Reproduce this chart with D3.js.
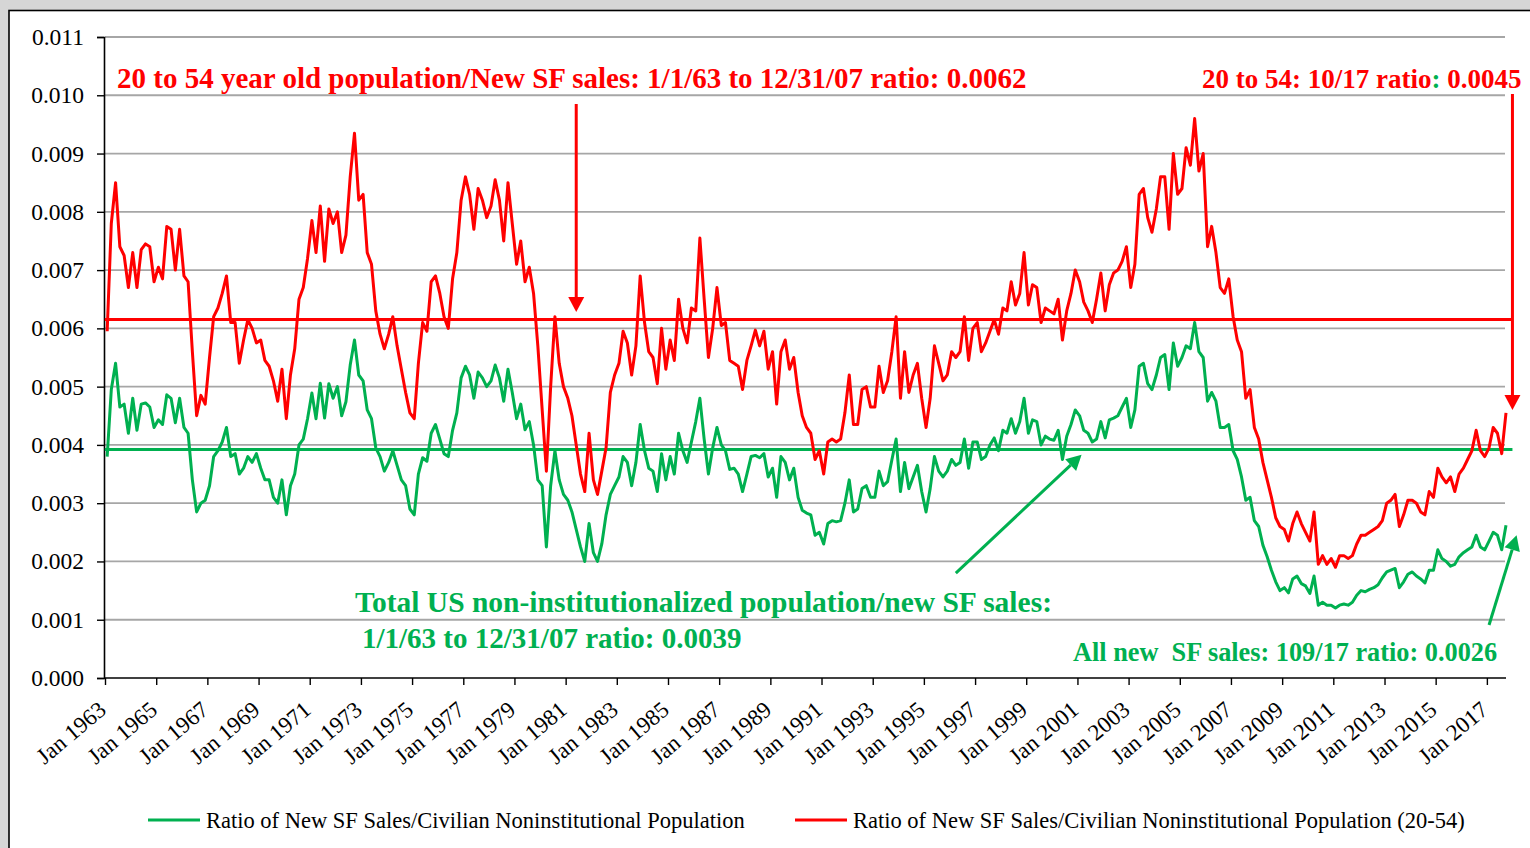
<!DOCTYPE html>
<html lang="en">
<head>
  <meta charset="UTF-8">
  <title>New SF sales / population ratio</title>
  <style>
    body { margin: 0; background: #d9d9d9; }
    svg { display: block; }
  </style>
</head>
<body>
  <script src="https://cdn.jsdelivr.net/npm/d3@7/dist/d3.min.js"></script>
  <script>
    // values, in thousandths (0.001 units)
    // one sample every 2 months, Feb 1963 .. Oct 2017, one row per year
    const totalPopRatio = [
      3.8, 4.95, 5.4, 4.65, 4.7, 4.2,      // 1963
      4.8, 4.25, 4.7, 4.72, 4.65, 4.3,
      4.43, 4.35, 4.86, 4.8, 4.38, 4.8,    // 1965
      4.3, 4.2, 3.4, 2.85, 3.0, 3.05,
      3.3, 3.8, 3.9, 4.05, 4.3, 3.8,       // 1967
      3.85, 3.5, 3.6, 3.8, 3.7, 3.85,
      3.6, 3.4, 3.4, 3.1, 3.0, 3.4,        // 1969
      2.8, 3.3, 3.5, 4.0, 4.1, 4.45,
      4.89, 4.45, 5.06, 4.46, 5.05, 4.8,   // 1971
      5.0, 4.5, 4.74, 5.37, 5.8, 5.2,
      5.1, 4.6, 4.45, 3.95, 3.8, 3.55,     // 1973
      3.7, 3.9, 3.65, 3.4, 3.3, 2.9,
      2.8, 3.5, 3.78, 3.72, 4.2, 4.35,     // 1975
      4.1, 3.85, 3.8, 4.25, 4.55, 5.15,
      5.35, 5.2, 4.8, 5.25, 5.15, 5.0,     // 1977
      5.1, 5.37, 5.15, 4.75, 5.3, 4.9,
      4.45, 4.7, 4.26, 4.4, 4.0, 3.4,      // 1979
      3.3, 2.25, 3.3, 3.9, 3.4, 3.15,
      3.05, 2.85, 2.55, 2.25, 2.0, 2.65,   // 1981
      2.15, 2.0, 2.3, 2.8, 3.15, 3.3,
      3.45, 3.8, 3.7, 3.3, 3.7, 4.35,      // 1983
      3.9, 3.6, 3.55, 3.2, 3.85, 3.4,
      3.8, 3.5, 4.2, 3.9, 3.7, 4.05,       // 1985
      4.4, 4.8, 4.1, 3.5, 3.95, 4.3,
      4.0, 3.9, 3.58, 3.6, 3.5, 3.2,       // 1987
      3.5, 3.8, 3.82, 3.78, 3.85, 3.45,
      3.6, 3.1, 3.8, 3.7, 3.4, 3.6,        // 1989
      3.1, 2.88, 2.83, 2.8, 2.45, 2.5,
      2.3, 2.65, 2.7, 2.68, 2.7, 3.0,      // 1991
      3.4, 2.85, 2.9, 3.25, 3.3, 3.1,
      3.1, 3.55, 3.3, 3.37, 3.74, 4.1,     // 1993
      3.2, 3.7, 3.25, 3.45, 3.65, 3.2,
      2.85, 3.25, 3.8, 3.55, 3.45, 3.55,   // 1995
      3.75, 3.65, 3.7, 4.1, 3.6, 4.05,
      4.05, 3.75, 3.8, 4.0, 4.12, 3.9,     // 1997
      4.25, 4.2, 4.45, 4.2, 4.4, 4.8,
      4.2, 4.43, 4.4, 4.0, 4.15, 4.1,      // 1999
      4.08, 4.25, 3.75, 4.15, 4.35, 4.6,
      4.5, 4.25, 4.2, 4.05, 4.1, 4.4,      // 2001
      4.12, 4.43, 4.46, 4.5, 4.65, 4.8,
      4.3, 4.6, 5.35, 5.4, 5.05, 4.95,     // 2003
      5.2, 5.5, 5.55, 4.95, 5.75, 5.35,
      5.5, 5.7, 5.65, 6.1, 5.6, 5.5,       // 2005
      4.75, 4.9, 4.75, 4.3, 4.3, 4.35,
      3.9, 3.75, 3.45, 3.05, 3.1, 2.7,     // 2007
      2.6, 2.28, 2.08, 1.85, 1.65, 1.5,
      1.55, 1.46, 1.7, 1.75, 1.62, 1.58,   // 2009
      1.45, 1.75, 1.25, 1.3, 1.25, 1.25,
      1.2, 1.25, 1.27, 1.25, 1.3, 1.42,    // 2011
      1.5, 1.48, 1.52, 1.55, 1.6, 1.72,
      1.82, 1.85, 1.88, 1.55, 1.65, 1.78,  // 2013
      1.82, 1.75, 1.7, 1.63, 1.85, 1.85,
      2.2, 2.05, 2.0, 1.92, 1.95, 2.08,    // 2015
      2.15, 2.2, 2.25, 2.45, 2.25, 2.2,
      2.35, 2.5, 2.45, 2.2, 2.62           // 2017
    ];

    const age2054Ratio = [
      5.95, 7.8, 8.5, 7.4, 7.25, 6.7,      // 1963
      7.3, 6.7, 7.35, 7.45, 7.4, 6.8,
      7.05, 6.85, 7.75, 7.7, 7.0, 7.7,     // 1965
      6.9, 6.8, 5.6, 4.5, 4.85, 4.7,
      5.5, 6.2, 6.35, 6.6, 6.9, 6.1,       // 1967
      6.1, 5.4, 5.8, 6.15, 6.0, 5.75,
      5.8, 5.45, 5.35, 5.1, 4.75, 5.3,     // 1969
      4.45, 5.2, 5.65, 6.5, 6.7, 7.2,
      7.85, 7.3, 8.1, 7.15, 8.05, 7.8,     // 1971
      8.0, 7.3, 7.6, 8.6, 9.35, 8.2,
      8.3, 7.3, 7.1, 6.3, 5.9, 5.65,       // 1973
      5.9, 6.2, 5.7, 5.3, 4.9, 4.55,
      4.45, 5.4, 6.1, 5.95, 6.8, 6.9,      // 1975
      6.6, 6.2, 6.0, 6.85, 7.3, 8.2,
      8.6, 8.3, 7.7, 8.4, 8.2, 7.9,        // 1977
      8.1, 8.55, 8.2, 7.5, 8.5, 7.8,
      7.1, 7.5, 6.8, 7.05, 6.6, 5.7,       // 1979
      4.6, 3.55, 5.0, 6.2, 5.4, 5.0,
      4.8, 4.5, 4.0, 3.5, 3.2, 4.2,        // 1981
      3.4, 3.15, 3.55, 3.95, 4.9, 5.2,
      5.4, 5.95, 5.75, 5.2, 5.7, 6.9,      // 1983
      6.1, 5.6, 5.5, 5.05, 6.0, 5.3,
      5.8, 5.45, 6.5, 6.0, 5.75, 6.35,     // 1985
      6.3, 7.55, 6.5, 5.5, 6.0, 6.7,
      6.05, 6.1, 5.45, 5.4, 5.35, 4.95,    // 1987
      5.45, 5.7, 5.97, 5.7, 5.95, 5.3,
      5.6, 4.7, 5.6, 5.8, 5.3, 5.5,        // 1989
      4.9, 4.5, 4.3, 4.2, 3.75, 3.9,
      3.5, 4.05, 4.1, 4.05, 4.1, 4.55,     // 1991
      5.2, 4.35, 4.35, 4.95, 5.0, 4.65,
      4.65, 5.35, 4.9, 5.1, 5.6, 6.2,      // 1993
      4.8, 5.6, 4.9, 5.2, 5.4, 4.8,
      4.3, 4.8, 5.7, 5.4, 5.1, 5.2,        // 1995
      5.6, 5.5, 5.6, 6.2, 5.45, 6.0,
      6.1, 5.6, 5.75, 5.95, 6.15, 5.9,     // 1997
      6.35, 6.3, 6.8, 6.4, 6.6, 7.3,
      6.4, 6.75, 6.7, 6.1, 6.35, 6.3,      // 1999
      6.25, 6.5, 5.8, 6.3, 6.6, 7.0,
      6.8, 6.45, 6.3, 6.1, 6.5, 6.95,      // 2001
      6.3, 6.75, 6.95, 7.0, 7.15, 7.4,
      6.7, 7.1, 8.3, 8.4, 7.9, 7.65,       // 2003
      8.05, 8.6, 8.6, 7.7, 9.0, 8.3,
      8.4, 9.1, 8.8, 9.6, 8.7, 9.0,        // 2005
      7.4, 7.75, 7.3, 6.7, 6.6, 6.85,
      6.2, 5.8, 5.6, 4.8, 4.95, 4.3,       // 2007
      4.1, 3.7, 3.4, 3.1, 2.75, 2.6,
      2.55, 2.35, 2.65, 2.85, 2.65, 2.5,   // 2009
      2.35, 2.85, 1.95, 2.1, 1.95, 2.05,
      1.9, 2.1, 2.1, 2.05, 2.1, 2.3,       // 2011
      2.45, 2.45, 2.5, 2.55, 2.6, 2.7,
      3.0, 3.05, 3.15, 2.6, 2.8, 3.05,     // 2013
      3.05, 3.0, 2.85, 2.8, 3.2, 3.1,
      3.6, 3.45, 3.35, 3.45, 3.2, 3.5,     // 2015
      3.6, 3.75, 3.9, 4.25, 3.9, 3.8,
      3.95, 4.3, 4.2, 3.85, 4.55           // 2017
    ];

    // 1/1/63 - 12/31/07 averages (horizontal lines)
    const avgTotal = 3.92;
    const avgAge2054 = 6.15;

    const yTicks = [0, 1, 2, 3, 4, 5, 6, 7, 8, 9, 10, 11];
    const tickYears = [1963, 1965, 1967, 1969, 1971, 1973, 1975, 1977, 1979, 1981, 1983, 1985, 1987, 1989,
      1991, 1993, 1995, 1997, 1999, 2001, 2003, 2005, 2007, 2009, 2011, 2013, 2015, 2017];

    const legendLabels = [
      'Ratio of New SF Sales/Civilian Noninstitutional Population',
      'Ratio of New SF Sales/Civilian Noninstitutional Population (20-54)'
    ];

    const RED = '#ff0000', GREEN = '#00b050', GRID = '#a6a6a6';
    const FONT = '"Liberation Serif", "Times New Roman", serif';
    const width = 1530, height = 848;

    const utc = (y, m) => new Date(Date.UTC(y, m, 1));
    const firstSample = utc(1963, 1);
    const dates = totalPopRatio.map((d, i) => d3.utcMonth.offset(firstSample, 2 * i));

    const x = d3.scaleUtc().domain([utc(1963, 0), utc(2017, 9)]).range([105, 1506]);
    const y = d3.scaleLinear().domain([0, 11]).range([678, 37]);

    const svg = d3.select('body').append('svg').attr('width', width).attr('height', height);

    // grey backdrop + white panel
    svg.append('rect').attr('width', width).attr('height', height).attr('fill', '#d6d6d6');
    svg.append('rect').attr('x', 9).attr('y', 10.5).attr('width', 1560).attr('height', 900)
      .attr('fill', '#fff').attr('stroke', '#000').attr('stroke-width', 1.6);

    // gridlines
    svg.append('g').selectAll('line').data(yTicks.filter(d => d > 0)).enter().append('line')
      .attr('x1', 105).attr('x2', 1505)
      .attr('y1', d => y(d)).attr('y2', d => y(d))
      .attr('stroke', GRID).attr('stroke-width', 1.8);

    // y axis
    const yAxis = svg.append('g').attr('transform', 'translate(104,0)')
      .call(d3.axisLeft(y).tickValues(yTicks).tickSize(7).tickPadding(13)
        .tickFormat(d => (d / 1000).toFixed(3)));
    yAxis.select('.domain').attr('stroke', '#000').attr('stroke-width', 1.6);
    yAxis.selectAll('line').attr('stroke', '#000').attr('stroke-width', 1.4);
    yAxis.selectAll('text').attr('font-family', FONT).attr('font-size', 23.5).attr('fill', '#000');

    // x axis
    const xAxis = svg.append('g').attr('transform', 'translate(0,678)')
      .call(d3.axisBottom(x).tickValues(tickYears.map(yr => utc(yr, 0))).tickSize(7)
        .tickFormat(d => 'Jan ' + d.getUTCFullYear()));
    xAxis.select('.domain').attr('stroke', '#000').attr('stroke-width', 1.6).attr('d', 'M104,0H1506');
    xAxis.selectAll('line').attr('stroke', '#000').attr('stroke-width', 1.4);
    xAxis.selectAll('text')
      .attr('font-family', FONT).attr('font-size', 23).attr('fill', '#000')
      .attr('text-anchor', 'end').attr('x', 0).attr('y', 0).attr('dy', '0.35em')
      .attr('transform', 'translate(-3,28) rotate(-40)');

    // average lines
    const refX0 = x(utc(1962, 11)) + 2, refX1 = x(utc(2018, 0));
    svg.append('line').attr('x1', refX0).attr('x2', refX1)
      .attr('y1', y(avgTotal)).attr('y2', y(avgTotal))
      .attr('stroke', GREEN).attr('stroke-width', 3);
    svg.append('line').attr('x1', refX0).attr('x2', refX1)
      .attr('y1', y(avgAge2054)).attr('y2', y(avgAge2054))
      .attr('stroke', RED).attr('stroke-width', 3);

    // series
    const line = d3.line().x((d, i) => x(dates[i])).y(d => y(d));
    svg.append('path').datum(totalPopRatio).attr('d', line)
      .attr('fill', 'none').attr('stroke', GREEN).attr('stroke-width', 3).attr('stroke-linejoin', 'round');
    svg.append('path').datum(age2054Ratio).attr('d', line)
      .attr('fill', 'none').attr('stroke', RED).attr('stroke-width', 3).attr('stroke-linejoin', 'round');

    // arrows
    function arrow(x1, y1, x2, y2, color){
      const ang = Math.atan2(y2 - y1, x2 - x1);
      const len = 15, half = 8;
      const bx = x2 - len * Math.cos(ang), by = y2 - len * Math.sin(ang);
      const px = -Math.sin(ang) * half, py = Math.cos(ang) * half;
      svg.append('line').attr('x1', x1).attr('y1', y1).attr('x2', bx).attr('y2', by)
        .attr('stroke', color).attr('stroke-width', 3);
      svg.append('polygon')
        .attr('points', [[x2, y2], [bx + px, by + py], [bx - px, by - py]].map(p => p.join(',')).join(' '))
        .attr('fill', color);
    }
    arrow(x(utc(1981, 5)), y(9.85), x(utc(1981, 5)), y(6.28), RED);
    arrow(refX1, y(10.02), refX1, y(4.6), RED);
    arrow(x(utc(1996, 3)), y(1.8), x(utc(2001, 2)), y(3.83), GREEN);
    arrow(x(utc(2017, 1)), y(0.91), x(utc(2018, 2)), y(2.45), GREEN);

    // annotations
    function note(tx, ty, size, color, str){
      return svg.append('text').attr('x', tx).attr('y', ty)
        .attr('font-family', FONT).attr('font-weight', 'bold').attr('font-size', size)
        .attr('fill', color).style('white-space', 'pre').text(str);
    }
    note(117, 88, 29, RED, '20 to 54 year old population/New SF sales: 1/1/63 to 12/31/07 ratio: 0.0062');
    const right = note(1202, 87.5, 27, RED, '20 to 54: 10/17 ratio');
    right.append('tspan').attr('fill', GREEN).text(':');
    right.append('tspan').text(' 0.0045');
    note(355, 612, 29.5, GREEN, 'Total US non-institutionalized population/new SF sales:');
    note(362, 648, 29, GREEN, '1/1/63 to 12/31/07 ratio: 0.0039');
    note(1073, 661, 26.3, GREEN, 'All new  SF sales: 109/17 ratio: 0.0026');

    // legend
    const legend = svg.append('g').selectAll('g').data(legendLabels).enter().append('g')
      .attr('transform', (d, i) => `translate(${i ? 795 : 148},820)`);
    legend.append('line').attr('x1', 0).attr('x2', 52)
      .attr('stroke', (d, i) => i ? RED : GREEN).attr('stroke-width', 3);
    legend.append('text').attr('x', 58).attr('y', 8)
      .attr('font-family', FONT).attr('font-size', 22.5).attr('fill', '#000')
      .text(d => d);
  </script>
</body>
</html>
